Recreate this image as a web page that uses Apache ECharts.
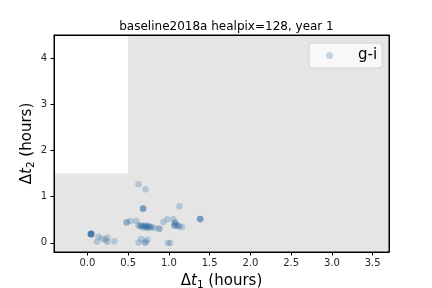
<!DOCTYPE html>
<html>
<head>
<meta charset="utf-8">
<script src="https://cdn.jsdelivr.net/npm/echarts@6/dist/echarts.min.js"></script>
<style>html,body{margin:0;padding:0;background:#fff;}#c{width:432px;height:288px;}</style>
</head>
<body>
<div id="c"></div>
<script>
// Data
const seriesName = 'g-i';
const xVals = [0.626, 0.712, 0.683, 0.680, 0.686, 1.129, 1.383, 1.386, 1.380,
  0.045, 0.040, 0.050, 0.045, 0.048, 0.042,
  0.135, 0.115, 0.177, 0.245, 0.245, 0.217, 0.33,
  0.483, 0.480, 0.53, 0.60,
  0.626, 0.645, 0.667, 0.687, 0.70, 0.708, 0.72, 0.736, 0.749, 0.76, 0.79, 0.82, 0.66, 0.73, 0.77,
  0.883, 0.880, 0.93, 0.98, 1.055, 1.076, 1.072, 1.064, 1.068, 1.105, 1.100, 1.13, 1.16,
  0.626, 0.66, 0.708, 0.712, 0.736, 0.987, 1.015];
const yVals = [1.27, 1.16, 0.74, 0.73, 0.745, 0.79, 0.515, 0.51, 0.52,
  0.19, 0.185, 0.195, 0.18, 0.20, 0.19,
  0.13, 0.02, 0.09, 0.11, 0.02, 0.06, 0.035,
  0.447, 0.44, 0.47, 0.47,
  0.375, 0.36, 0.35, 0.33, 0.375, 0.36, 0.34, 0.32, 0.35, 0.36, 0.34, 0.32, 0.38, 0.37, 0.33,
  0.30, 0.31, 0.45, 0.51, 0.51, 0.44, 0.43, 0.38, 0.37, 0.38, 0.37, 0.35, 0.34,
  0.006, 0.08, 0.006, 0.01, 0.065, -0.006, -0.006];
const xTicks = [0.0, 0.5, 1.0, 1.5, 2.0, 2.5, 3.0, 3.5];
const yTicks = [0, 1, 2, 3, 4];
const xRange = [-0.41, 3.70];
const yRange = [-0.2, 4.5];
// white (excluded) region: x from axis min to 0.5, y from 1.5 to axis max
const whiteX = [-0.41, 0.5];
const whiteY = [1.5, 4.5];

const points = xVals.map((x, i) => [x, yVals[i]]);
const font = 'DejaVu Sans';
const nameRich = {
  d: {fontFamily: font, fontSize: 15, color: '#000', lineHeight: 20},
  t: {fontFamily: font, fontSize: 15, fontStyle: 'italic', color: '#000', lineHeight: 20},
  s: {fontFamily: font, fontSize: 10.5, color: '#000', verticalAlign: 'bottom', lineHeight: 20}
};
const frameAxis = {
  type: 'value', splitLine: {show: false}, axisTick: {show: false}, axisLabel: {show: false},
  axisLine: {show: true, onZero: false, lineStyle: {color: '#000', width: 1}}, z: 10
};

const chart = echarts.init(document.getElementById('c'), null, {renderer: 'canvas'});
chart.setOption({
  animation: false,
  backgroundColor: '#ffffff',
  title: {
    text: 'baseline2018a healpix=128, year 1',
    left: 221.5, textAlign: 'center', top: 16,
    textStyle: {fontFamily: font, fontSize: 12, fontWeight: 'normal', color: '#000'}
  },
  legend: {
    data: [seriesName],
    left: 309, top: 43,
    icon: 'circle', itemWidth: 7, itemHeight: 7, itemGap: 0,
    padding: [5, 5, 5, 17],
    backgroundColor: 'rgba(250,250,250,0.9)',
    borderColor: '#d0d0d0', borderWidth: 1, borderRadius: 3,
    textStyle: {fontFamily: font, fontSize: 15, color: '#000', padding: [0, 0, 0, 20]}
  },
  grid: {
    left: 54, right: 43, top: 35, bottom: 36, outerBoundsMode: 'none', containLabel: false,
    show: true, backgroundColor: '#e5e5e5', borderColor: '#000', borderWidth: 1
  },
  xAxis: [{
    type: 'value', min: xRange[0], max: xRange[1], z: 10,
    splitLine: {show: false},
    axisLine: {show: true, onZero: false, lineStyle: {color: '#000'}},
    axisTick: {show: true, length: 3.5, customValues: xTicks, lineStyle: {color: '#000'}},
    axisLabel: {customValues: xTicks, margin: 6, fontFamily: font, fontSize: 10, color: '#262626',
      formatter: v => v.toFixed(1)},
    name: '{d|Δ}{t|t}{s|1}{d| (hours)}',
    nameLocation: 'middle', nameGap: 19, nameMoveOverlap: false,
    nameTextStyle: {rich: nameRich}
  }, Object.assign({position: 'top', min: xRange[0], max: xRange[1]}, frameAxis)],
  yAxis: [{
    type: 'value', min: yRange[0], max: yRange[1], z: 10,
    splitLine: {show: false},
    axisLine: {show: true, onZero: false, lineStyle: {color: '#000'}},
    axisTick: {show: true, length: 3.5, customValues: yTicks, lineStyle: {color: '#000'}},
    axisLabel: {customValues: yTicks, margin: 7, fontFamily: font, fontSize: 10, color: '#262626',
      formatter: v => String(v)},
    name: '{d|Δ}{t|t}{s|2}{d| (hours)}',
    nameLocation: 'middle', nameGap: 17, nameMoveOverlap: false,
    nameTextStyle: {rich: nameRich}
  }, Object.assign({position: 'right', min: yRange[0], max: yRange[1]}, frameAxis)],
  series: [{
    name: seriesName,
    type: 'scatter',
    data: points,
    symbolSize: 6.5,
    itemStyle: {color: 'rgb(40,100,160)', opacity: 0.25},
    z: 3,
    markArea: {
      silent: true,
      itemStyle: {color: '#ffffff', opacity: 1},
      data: [[{coord: [whiteX[0], whiteY[0]]}, {coord: [whiteX[1], whiteY[1]]}]],
      z: 1
    }
  }]
});
</script>
</body>
</html>
